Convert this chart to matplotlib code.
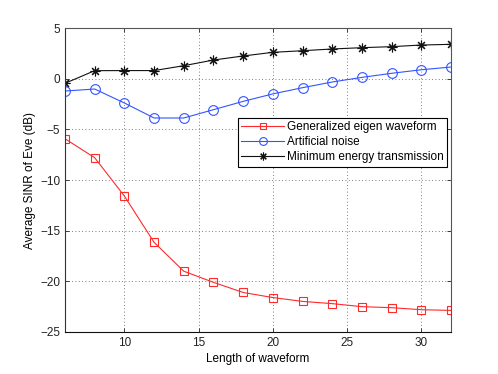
import matplotlib
matplotlib.use("Agg")
import matplotlib.pyplot as plt

plt.rcParams['font.family'] = ['Liberation Sans', 'DejaVu Sans']

x = [6, 8, 10, 12, 14, 16, 18, 20, 22, 24, 26, 28, 30, 32]
eigen = [-5.93, -7.8, -11.58, -16.15, -19.0, -20.1, -21.1, -21.6, -21.98, -22.2, -22.5, -22.6, -22.8, -22.87]
noise = [-1.22, -1.02, -2.4, -3.88, -3.88, -3.06, -2.24, -1.5, -0.89, -0.33, 0.13, 0.53, 0.88, 1.15]
minen = [-0.46, 0.79, 0.8, 0.8, 1.28, 1.84, 2.24, 2.6, 2.76, 2.93, 3.06, 3.16, 3.32, 3.39]
xticks = [10, 15, 20, 25, 30]
yticks = [-25, -20, -15, -10, -5, 0, 5]

fig = plt.figure(figsize=(4.98, 3.74), dpi=100)
ax = fig.add_axes([0.1305, 0.1123, 0.7751, 0.8128])

ax.plot(x, eigen, color='#ff2a2a', lw=0.8, marker='s', ms=6, mfc='none', mew=0.8,
        label='Generalized eigen waveform')
ax.plot(x, noise, color='#3355ff', lw=0.8, marker='o', ms=7, mfc='none', mew=0.8,
        label='Artificial noise')
ax.plot(x, minen, color='#111111', lw=0.8, marker=(8, 2, 0), ms=7, mfc='none', mew=0.8,
        label='Minimum energy transmission')

ax.set_xlim(6, 32)
ax.set_ylim(-25, 5)
ax.set_xticks(xticks)
ax.set_yticks(yticks)
ax.set_xticklabels([str(t) for t in xticks])
ax.set_yticklabels([str(t).replace('-', '\u2212') for t in yticks])
ax.grid(True, linestyle=(0, (1, 3)), color='#555555', lw=0.6)
ax.tick_params(direction='in', top=True, right=True, labelsize=8.5, length=3, width=0.6, colors='#222222')
for s in ax.spines.values():
    s.set_linewidth(0.8)
    s.set_color('#555555')
ax.spines['bottom'].set_color('#111111')
ax.spines['left'].set_color('#333333')

ax.set_xlabel('Length of waveform', fontsize=8.5, labelpad=3)
ax.set_ylabel('Average SINR of Eve (dB)', fontsize=8.5, labelpad=3)

leg = ax.legend(loc='upper right', bbox_to_anchor=(0.99, 0.705), fontsize=8.5,
                frameon=True, fancybox=False, edgecolor='black', framealpha=1,
                borderpad=0.3, labelspacing=0.25, handlelength=3.6, handletextpad=0.25,
                borderaxespad=0, markerscale=0.8)
leg.get_frame().set_linewidth(0.8)

fig.savefig('out.png', dpi=100)
